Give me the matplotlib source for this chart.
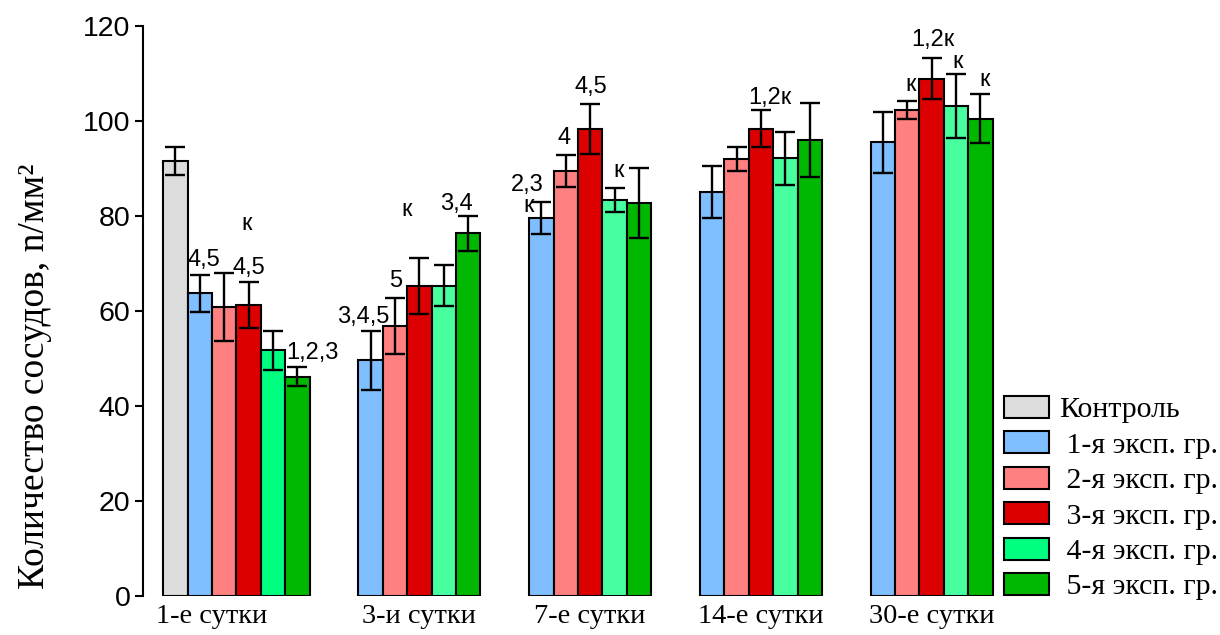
import matplotlib
matplotlib.use("Agg")
import matplotlib.pyplot as plt
from matplotlib.patches import Patch
import numpy as np

# ---- data -------------------------------------------------------------
days = ["1-е сутки", "3-и сутки", "7-е сутки", "14-е сутки", "30-е сутки"]
series_names = ["Контроль", " 1-я эксп. гр.", " 2-я эксп. гр.", " 3-я эксп. гр.",
                " 4-я эксп. гр.", " 5-я эксп. гр."]

control_mean = [91.6]
control_err = [2.9]

grp1_mean = [63.7, 49.6, 79.5, 85.1, 95.5]
grp1_err = [3.9, 6.2, 3.4, 5.5, 6.4]
grp2_mean = [60.8, 56.7, 89.4, 91.9, 102.3]
grp2_err = [7.2, 5.9, 3.4, 2.5, 2.0]
grp3_mean = [61.2, 65.3, 98.3, 98.4, 108.9]
grp3_err = [4.9, 5.9, 5.3, 3.9, 4.3]
grp4_mean = [51.7, 65.3, 83.3, 92.1, 103.2]
grp4_err = [4.1, 4.3, 2.5, 5.6, 6.7]
grp5_mean = [46.1, 76.3, 82.7, 95.9, 100.5]
grp5_err = [2.0, 3.7, 7.3, 7.8, 5.1]

# significance marks: (group index 1..5, day index, text)
marks = [
    (1, 0, "4,5"), (3, 0, "4,5"), (3, 0, "к"), (5, 0, "1,2,3"),
    (1, 1, "3,4,5"), (2, 1, "5"), (3, 1, "к"), (5, 1, "3,4"),
    (1, 2, "2,3"), (1, 2, "к"), (2, 2, "4"), (3, 2, "4,5"), (4, 2, "к"),
    (3, 3, "1,2к"),
    (2, 4, "к"), (3, 4, "1,2к"), (4, 4, "к"), (5, 4, "к"),
]
# label offsets in pixels (dx, dy of baseline above the error-bar top)
mark_offsets = [
    (4, 9), (0, 8), (-2, 52), (15, 8),
    (-7, 8), (1, 11), (-13, 42), (-12, 6),
    (-14, 11), (-13, -10), (-2, 11), (1, 11), (4, 11),
    (9, 6),
    (3, 10), (1, 12), (1, 6), (4, 8),
]

# ---- styling ----------------------------------------------------------
serif = "Liberation Serif"
sans = "Liberation Sans"
control_color = "#dcdcdc"
colors = ["#80bfff", "#ff8080", "#dd0000", "#48ffa0", "#00b800"]
day1_colors = ["#80bfff", "#ff8080", "#dd0000", "#00ff80", "#00b800"]
legend_colors = [control_color, "#80bfff", "#ff8080", "#dd0000", "#00ff80", "#00b800"]

fig = plt.figure(figsize=(12.2, 6.35), dpi=100)
ax = fig.add_axes([143 / 1220, 39.5 / 635, 857 / 1220, 569.5 / 635])

group_step = 7
means = [grp1_mean, grp2_mean, grp3_mean, grp4_mean, grp5_mean]
errs = [grp1_err, grp2_err, grp3_err, grp4_err, grp5_err]

bar_kw = dict(width=1.0, edgecolor="black", linewidth=1.5, zorder=2)
err_kw = dict(fmt="none", ecolor="black", elinewidth=1.7, capsize=7, capthick=1.7, zorder=3)

# control bar (first day only)
ax.bar([0], control_mean, color=control_color, **bar_kw)
ax.errorbar([0], control_mean, yerr=control_err, **err_kw)

for s in range(5):
    xs = np.arange(len(days)) * group_step + (s + 1)
    cols = [day1_colors[s]] + [colors[s]] * (len(days) - 1)
    ax.bar(xs, means[s], color=cols, **bar_kw)
    ax.errorbar(xs, means[s], yerr=errs[s], **err_kw)

for (s, d, txt), (dx, dy) in zip(marks, mark_offsets):
    x = d * group_step + s
    y = means[s - 1][d] + errs[s - 1][d]
    ax.annotate(txt, (x, y), xytext=(dx, dy), textcoords="offset pixels",
                ha="center", va="baseline", fontsize=17, family=sans)

ax.set_xlim(-1.33, 33.8)
ax.set_ylim(0, 120)
ax.set_yticks(np.arange(0, 121, 20))
ax.set_xticks([1.5, 10, 17, 24, 31])
ax.set_xticklabels(days, family=serif, fontsize=20.5)
ax.tick_params(axis="x", length=0, pad=6)
ax.tick_params(axis="y", direction="out", length=6, width=1.5, labelsize=20.5, pad=3)
for lab in ax.get_yticklabels():
    lab.set_family(sans)

for side in ("top", "right", "bottom"):
    ax.spines[side].set_visible(False)
ax.spines["left"].set_linewidth(1.5)

ax.set_ylabel("Количество сосудов, n/мм²", family=serif, fontsize=27)
ax.yaxis.set_label_coords(-0.106, 0.385)

handles = [Patch(facecolor=c, edgecolor="black", linewidth=1.5) for c in legend_colors]
fig.legend(handles, series_names, loc="upper left", bbox_to_anchor=(1004 / 1220, 1 - 396 / 635),
           frameon=False, prop={"family": serif, "size": 21.5}, handlelength=1.5,
           handleheight=0.75, handletextpad=0.35, labelspacing=0.27, borderpad=0,
           borderaxespad=0)

fig.savefig("out.png", dpi=100)
